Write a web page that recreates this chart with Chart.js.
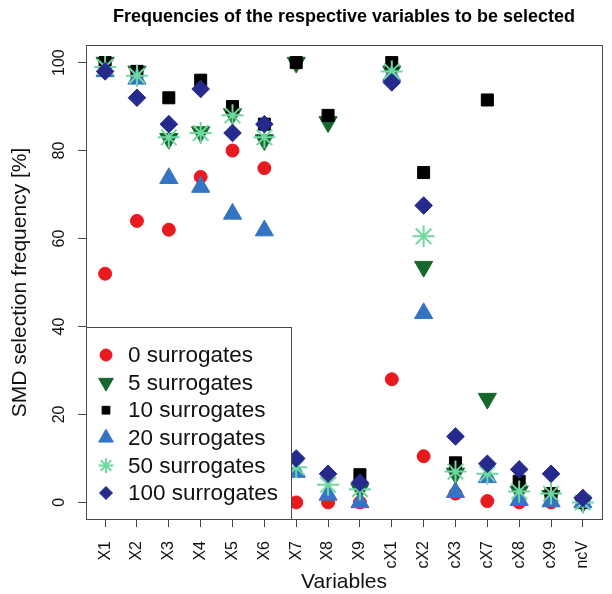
<!DOCTYPE html>
<html><head><meta charset="utf-8">
<script src="https://cdn.jsdelivr.net/npm/chart.js@4/dist/chart.umd.min.js"></script>
<style>html,body{margin:0;padding:0;background:#fff;overflow:hidden}#wrap{width:615px;height:594px}</style>
</head><body><div id="wrap"><canvas id="c" width="615" height="594"></canvas></div>
<script>
const categories = ['X1','X2','X3','X4','X5','X6','X7','X8','X9','cX1','cX2','cX3','cX7','cX8','cX9','ncV'];
const yTickValues = [0,20,40,60,80,100];
const seriesNames = ['0 surrogates','5 surrogates','10 surrogates','20 surrogates','50 surrogates','100 surrogates'];
const surr0   = [52, 64, 62, 74, 80, 76, 0, 0, 0, 28, 10.5, 2, 0.3, 0, 0, 0];
const surr5   = [100, 98, 82.7, 84.2, 88.3, 82.4, 100, 86.5, 3, 98, 53.6, 6.6, 23.6, 2.5, 1.5, 0];
const surr10  = [100, 98, 92, 96, 90, 86, 100, 88, 6.3, 100, 75, 9, 91.5, 4.8, 2, 0];
const surr20  = [98, 96.3, 73.7, 71.7, 65.6, 61.8, 6.9, 1.7, 0, 97, 43, 2.3, 5.7, 0.5, 0.2, 0];
const surr50  = [99, 97, 83, 84, 88, 83, 8, 4, 3, 98, 60.5, 7, 6.5, 2.5, 2, 0];
const surr100 = [98, 92, 86, 94, 84, 86, 10, 6.5, 4.5, 95.5, 67.5, 15, 8.8, 7.5, 6.5, 1];

const seriesValues = [surr0, surr5, surr10, surr20, surr50, surr100];
const styles = [
  {pointStyle:'circle',   color:'#e8191f', radius:6.5, rotation:0,   bw:1, lr:6},
  {pointStyle:'triangle', color:'#16672b', radius:10.5,rotation:180, bw:1, lr:8.5},
  {pointStyle:'rect',     color:'#000000', radius:8.5, rotation:0,   bw:1, lr:5.5},
  {pointStyle:'triangle', color:'#3574c4', radius:10.5,rotation:0,   bw:1, lr:8.5},
  {pointStyle:'star',     color:'#6fd8a0', radius:11,  rotation:0,   bw:2, lr:7.5},
  {pointStyle:'rectRot',  color:'#262a8c', radius:8.8, rotation:0,   bw:1, lr:6.5}
];

Chart.defaults.font.family = "'Liberation Sans', Arial, Helvetica, sans-serif";
Chart.defaults.color = '#111';

const datasets = seriesValues.map((vals, k) => ({
  label: seriesNames[k],
  data: categories.map((c, i) => ({x: i + 1, y: vals[i]})),
  showLine: false,
  pointStyle: styles[k].pointStyle,
  pointRadius: styles[k].radius,
  pointRotation: styles[k].rotation,
  pointBackgroundColor: styles[k].color,
  pointBorderColor: styles[k].color,
  pointBorderWidth: styles[k].bw,
  backgroundColor: styles[k].color,
  borderColor: styles[k].color,
  order: seriesValues.length - k
}));

const boxLegend = {
  id: 'boxLegend',
  afterDatasetsDraw(chart) {
    const ctx = chart.ctx, a = chart.chartArea;
    ctx.save();
    ctx.strokeStyle = '#4a4a4a';
    ctx.lineWidth = 1;
    ctx.strokeRect(Math.round(a.left) + 0.5, Math.round(a.top) + 0.5, a.right - a.left, Math.round(a.bottom - a.top) - 1);
    const lw = 205, lh = 193;
    const lx = Math.round(a.left), ly = Math.round(a.bottom) - lh;
    ctx.fillStyle = '#fff';
    ctx.fillRect(lx + 1, ly, lw, lh - 1);
    ctx.strokeRect(lx + 0.5, ly + 0.5, lw, lh - 1);
    chart.data.datasets.forEach((ds, i) => {
      const st = styles[i];
      const cy = ly + 28 + i * 27.6;
      ctx.fillStyle = st.color;
      ctx.strokeStyle = st.color;
      ctx.lineWidth = st.bw;
      Chart.helpers.drawPoint(ctx, {pointStyle: st.pointStyle, rotation: st.rotation, radius: st.lr, borderWidth: st.bw}, lx + 20, cy);
      ctx.fillStyle = '#111';
      ctx.font = "22.5px 'Liberation Sans', Arial, sans-serif";
      ctx.textBaseline = 'middle';
      ctx.textAlign = 'left';
      ctx.fillText(ds.label, lx + 42, cy + 1);
    });
    ctx.restore();
  }
};

new Chart(document.getElementById('c'), {
  type: 'scatter',
  data: {datasets},
  plugins: [boxLegend],
  options: {
    responsive: false,
    animation: false,
    layout: {padding: 0},
    plugins: {
      legend: {display: false},
      tooltip: {enabled: false},
      title: {
        display: true,
        text: 'Frequencies of the respective variables to be selected',
        fullSize: false,
        color: '#000',
        font: {size: 18, weight: 'bold', lineHeight: 1},
        padding: {top: 8, bottom: 19}
      }
    },
    scales: {
      x: {
        type: 'linear', min: 0.4, max: 16.6, position: 'bottom',
        afterBuildTicks: s => { s.ticks = categories.map((c, i) => ({value: i + 1})); },
        afterFit: s => { s.height = 74; s.paddingLeft = 0; s.paddingRight = 0; },
        ticks: {
          autoSkip: false, minRotation: 90, maxRotation: 90, padding: 14,
          font: {size: 16}, color: '#111',
          callback: v => categories[Math.round(v) - 1] ?? ''
        },
        grid: {drawOnChartArea: false, drawTicks: true, tickLength: 7, tickColor: '#444', color: '#444'},
        border: {display: false},
        title: {display: true, text: 'Variables', color: '#111', font: {size: 21, lineHeight: 1}, padding: {top: 0, bottom: 1}}
      },
      y: {
        type: 'linear', min: -4, max: 104,
        afterBuildTicks: s => { s.ticks = yTickValues.map(v => ({value: v})); },
        afterFit: s => { s.width = 86; s.paddingTop = 0; s.paddingBottom = 0; },
        ticks: {
          minRotation: 90, maxRotation: 90, crossAlign: 'center', padding: 5,
          font: {size: 16}, color: '#111',
          callback: v => String(v)
        },
        grid: {drawOnChartArea: false, drawTicks: true, tickLength: 8, tickColor: '#444', color: '#444'},
        border: {display: false},
        title: {display: true, text: 'SMD selection frequency [%]', color: '#111', font: {size: 21, lineHeight: 1}, padding: {top: 10, bottom: 0}}
      }
    }
  }
});
</script>
</body></html>
